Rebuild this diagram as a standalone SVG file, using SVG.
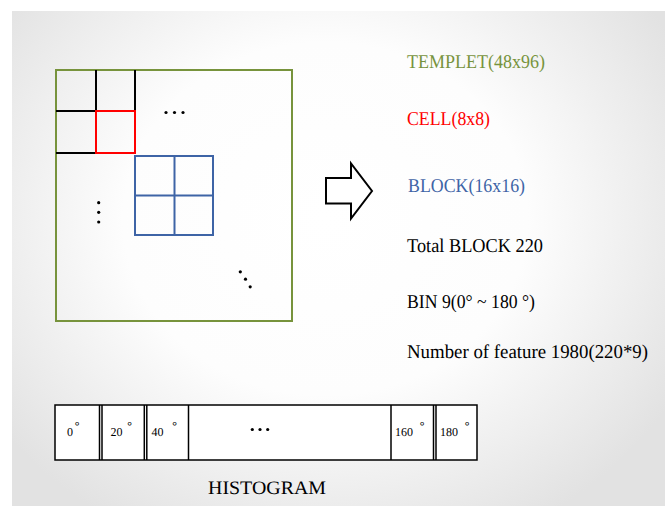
<svg xmlns="http://www.w3.org/2000/svg" width="670" height="506" viewBox="0 0 670 506">
  <defs>
    <radialGradient id="slideBg" cx="0.48" cy="0.42" r="0.62" gradientTransform="translate(0.48 0.42) scale(1 1.15) translate(-0.48 -0.42)">
      <stop offset="0" stop-color="#ffffff"/>
      <stop offset="0.5" stop-color="#fdfdfd"/>
      <stop offset="1" stop-color="#e2e2e2"/>
    </radialGradient>
  </defs>
  <style>
    text { text-rendering: geometricPrecision; }
    .lbl { font-family: "Liberation Serif", "Times New Roman", serif; font-size: 19.5px; }
    .small { font-family: "Liberation Serif", "Times New Roman", serif; font-size: 12px; fill: #000; }
    .deg { font-family: "Liberation Sans", Arial, sans-serif; font-size: 13px; fill: #000; }
    .green { fill: #77933c; }
    .red { fill: #ff0000; }
    .blue { fill: #3e64a6; }
    .black { fill: #000; }
    .grid { stroke: #000; stroke-width: 2; fill: none; }
    .bin { stroke: #000; stroke-width: 1.5; fill: #fff; }
    .sep { stroke: #000; stroke-width: 1.5; }
    .dot { fill: #000; }
  </style>

  <!-- slide background -->
  <rect x="0" y="0" width="670" height="506" fill="#ffffff"/>
  <rect x="12" y="11" width="653" height="495" fill="url(#slideBg)"/>

  <!-- template window with cells and a block -->
  <g id="templet">
    <rect x="56" y="70" width="236" height="251" fill="none" stroke="#77933c" stroke-width="2"/>
  </g>
  <g id="cells">
    <line class="grid" x1="96" y1="70" x2="96" y2="111"/>
    <line class="grid" x1="135" y1="70" x2="135" y2="111"/>
    <line class="grid" x1="56" y1="111" x2="96" y2="111"/>
    <line class="grid" x1="56" y1="153" x2="96" y2="153"/>
  </g>
  <g id="cell">
    <rect x="96" y="111" width="39" height="42" fill="none" stroke="#ff0000" stroke-width="2"/>
  </g>
  <g id="block">
    <rect x="135" y="156" width="78" height="79" fill="none" stroke="#3e64a6" stroke-width="2"/>
    <line x1="174.5" y1="156" x2="174.5" y2="235" stroke="#3e64a6" stroke-width="2"/>
    <line x1="135" y1="195.5" x2="213" y2="195.5" stroke="#3e64a6" stroke-width="2"/>
  </g>
  <g id="ellipsis-marks">
    <circle class="dot" cx="166" cy="112.5" r="1.6"/>
    <circle class="dot" cx="174.5" cy="112.5" r="1.6"/>
    <circle class="dot" cx="183" cy="112.5" r="1.6"/>
    <circle class="dot" cx="98.7" cy="202.7" r="1.6"/>
    <circle class="dot" cx="98.7" cy="212.3" r="1.6"/>
    <circle class="dot" cx="98.7" cy="222" r="1.6"/>
    <circle class="dot" cx="240.3" cy="271.8" r="1.6"/>
    <circle class="dot" cx="245.5" cy="279.2" r="1.6"/>
    <circle class="dot" cx="250.2" cy="286.8" r="1.6"/>
  </g>

  <!-- hollow right arrow -->
  <g id="arrow">
    <polygon points="326,178 351,178 351,163.5 372,191 351,218.5 351,203.5 326,203.5" fill="#fff" stroke="#000" stroke-width="2" stroke-linejoin="miter"/>
  </g>

  <!-- legend -->
  <g id="legend">
    <text class="lbl green" x="407" y="68" textLength="138" lengthAdjust="spacingAndGlyphs">TEMPLET(48x96)</text>
    <text class="lbl red" x="407" y="125" textLength="83" lengthAdjust="spacingAndGlyphs">CELL(8x8)</text>
    <text class="lbl blue" x="408" y="191.5" textLength="117" lengthAdjust="spacingAndGlyphs">BLOCK(16x16)</text>
    <text class="lbl black" x="407" y="251.5" textLength="136" lengthAdjust="spacingAndGlyphs">Total BLOCK 220</text>
    <text class="lbl black" x="407" y="308" textLength="128" lengthAdjust="spacingAndGlyphs">BIN 9(0° ~ 180 °)</text>
    <text class="lbl black" x="407" y="358" textLength="241" lengthAdjust="spacingAndGlyphs">Number of feature 1980(220*9)</text>
  </g>

  <!-- orientation histogram bins -->
  <g id="histogram">
    <rect class="bin" x="55" y="405" width="422" height="55"/>
    <line class="sep" x1="99.5" y1="405" x2="99.5" y2="460"/>
    <line class="sep" x1="102" y1="405" x2="102" y2="460"/>
    <line class="sep" x1="144.3" y1="405" x2="144.3" y2="460"/>
    <line class="sep" x1="146.8" y1="405" x2="146.8" y2="460"/>
    <line class="sep" x1="188.5" y1="405" x2="188.5" y2="460"/>
    <line class="sep" x1="391" y1="405" x2="391" y2="460"/>
    <line class="sep" x1="433.5" y1="405" x2="433.5" y2="460"/>
    <line class="sep" x1="436" y1="405" x2="436" y2="460"/>

    <text class="small" x="67" y="436">0</text>
    <text class="deg" x="74.5" y="431">°</text>
    <text class="small" x="110.5" y="436">20</text>
    <text class="deg" x="127" y="431">°</text>
    <text class="small" x="151.5" y="436">40</text>
    <text class="deg" x="172" y="431">°</text>
    <circle class="dot" cx="252.3" cy="429.5" r="1.6"/>
    <circle class="dot" cx="260" cy="429.5" r="1.6"/>
    <circle class="dot" cx="267.7" cy="429.5" r="1.6"/>
    <text class="small" x="395" y="436">160</text>
    <text class="deg" x="419.5" y="431">°</text>
    <text class="small" x="440" y="436">180</text>
    <text class="deg" x="464.5" y="431">°</text>

    <text class="black" x="208" y="494" font-family="'Liberation Serif', 'Times New Roman', serif" font-size="19" textLength="118" lengthAdjust="spacingAndGlyphs">HISTOGRAM</text>
  </g>
</svg>
